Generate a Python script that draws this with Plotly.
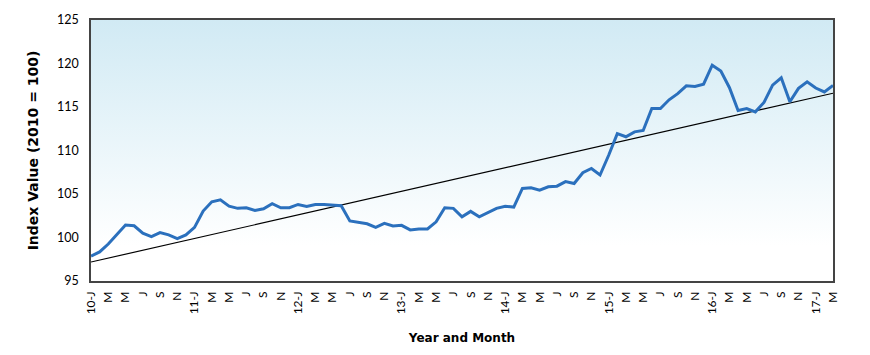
import plotly.graph_objects as go

# ---- data ----
months = ["J", "F", "M", "A", "M", "J", "J", "A", "S", "O", "N", "D"]
years = ["10", "11", "12", "13", "14", "15", "16", "17"]

index_values = [
    # 2010
    97.86, 98.34, 99.25, 100.40, 101.43, 101.35, 100.49, 100.11, 100.56, 100.30, 99.88, 100.30,
    # 2011
    101.16, 103.04, 104.10, 104.33, 103.60, 103.35, 103.42, 103.12, 103.31, 103.88, 103.42, 103.42,
    # 2012
    103.80, 103.57, 103.80, 103.80, 103.72, 103.65, 101.90, 101.72, 101.58, 101.17, 101.62, 101.32,
    # 2013
    101.40, 100.87, 100.98, 100.98, 101.80, 103.42, 103.35, 102.37, 103.00, 102.37, 102.82, 103.35,
    # 2014
    103.60, 103.50, 105.64, 105.72, 105.45, 105.83, 105.90, 106.43, 106.20, 107.44, 107.93, 107.18,
    # 2015
    109.45, 111.93, 111.58, 112.14, 112.30, 114.82, 114.82, 115.83, 116.54, 117.44, 117.37, 117.63,
    # 2016
    119.81, 119.14, 117.22, 114.59, 114.82, 114.44, 115.53, 117.52, 118.35, 115.60, 117.14, 117.90,
    # 2017
    117.18, 116.73, 117.48,
]

trend_start = 97.18
trend_end = 116.58

y_min, y_max = 95, 125
y_ticks = [95, 100, 105, 110, 115, 120, 125]

# ---- derived ----
n = len(index_values)
x_idx = list(range(n))
tick_vals = x_idx[::2]
tick_text = []
for i in tick_vals:
    y, m = divmod(i, 12)
    tick_text.append(f"{years[y]}-{months[m]}" if m == 0 else months[m])

tick_family = "Lato, 'Open Sans', sans-serif"
title_family = "'DejaVu Sans', sans-serif"

fig = go.Figure()

# gradient plot background
fig.add_trace(go.Scatter(
    x=[0, n - 1, n - 1, 0], y=[y_min, y_min, y_max, y_max],
    fill="toself", mode="lines", line=dict(width=0),
    fillgradient=dict(type="vertical", start=y_min, stop=y_max,
                      colorscale=[[0, "#ffffff"], [0.15, "#ffffff"], [1, "#d1eaf4"]]),
    hoverinfo="skip", showlegend=False,
))

# trend line
fig.add_trace(go.Scatter(
    x=[0, n - 1], y=[trend_start, trend_end], mode="lines",
    line=dict(color="black", width=1.2), showlegend=False,
))

# index line
fig.add_trace(go.Scatter(
    x=x_idx, y=index_values, mode="lines",
    line=dict(color="#2b70bd", width=3), showlegend=False,
))

fig.update_layout(
    width=870, height=355,
    margin=dict(l=91, r=37, t=16, b=73),
    paper_bgcolor="white", plot_bgcolor="white",
    font=dict(family=tick_family, size=12, color="black"),
)
fig.update_xaxes(
    range=[0, n - 1], tickvals=tick_vals, ticktext=tick_text, tickangle=-90,
    showgrid=False, zeroline=False, showline=True, mirror=True,
    linecolor="#444444", linewidth=1.5, ticks="", ticklabelstandoff=4,
    tickfont=dict(size=12),
    title=dict(text="<b>Year and Month</b>", font=dict(family=title_family, size=12), standoff=20),
)
fig.update_yaxes(
    range=[y_min, y_max], tickvals=y_ticks,
    showgrid=False, zeroline=False, showline=True, mirror=True,
    linecolor="#444444", linewidth=1.5, ticks="", ticklabelstandoff=8,
    tickfont=dict(size=12.5),
    title=dict(text="<b>Index Value (2010 = 100)</b>", font=dict(family=title_family, size=14), standoff=15),
)

fig.write_html("out.html")
